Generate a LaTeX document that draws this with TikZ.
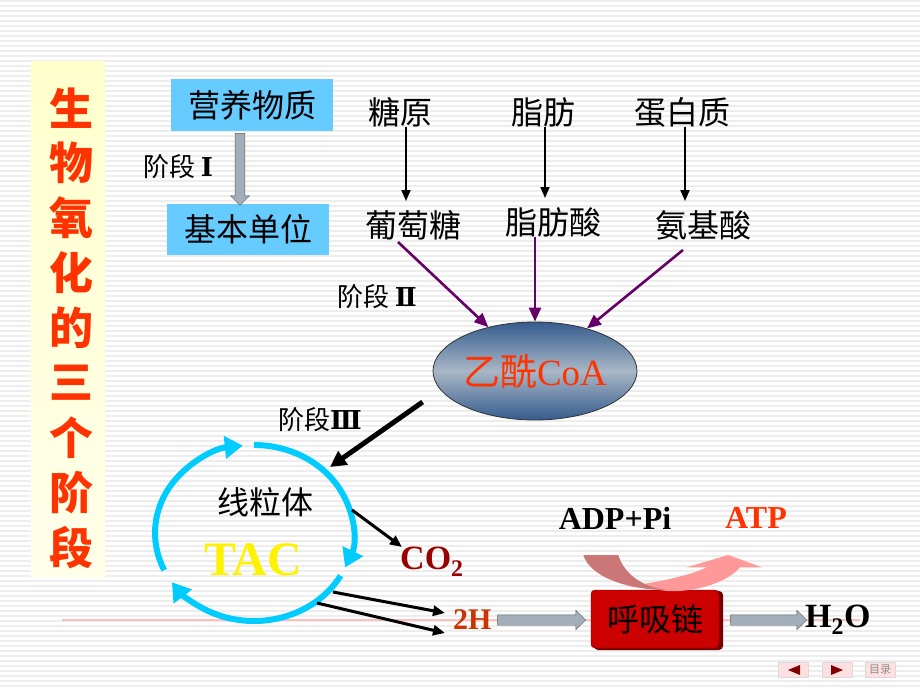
\documentclass[tikz,border=0pt]{standalone}
\usepackage{fontspec}
\setmainfont{Liberation Serif}
\newfontfamily\cjk{Noto Sans CJK SC}
\newfontfamily\numfont{DejaVu Serif}
\usetikzlibrary{arrows.meta,shapes.geometric,shapes.arrows}
\definecolor{boxblue}{HTML}{66CCFF}
\definecolor{titlered}{HTML}{FF3300}
\definecolor{titlebg}{HTML}{FFFFCC}
\definecolor{feedpurple}{HTML}{660066}
\definecolor{cyclecyan}{HTML}{00CCFF}
\definecolor{blockgray}{HTML}{A3AEBB}
\definecolor{coared}{HTML}{990000}
\definecolor{hred}{HTML}{CC3300}
\definecolor{chainred}{HTML}{CC0000}
\definecolor{bandlight}{HTML}{FF9999}
\definecolor{banddark}{HTML}{CC7777}
\definecolor{ellblue}{HTML}{355C8E}
\definecolor{ellmid}{HTML}{A9B7C6}
\newcommand{\stagenum}[1]{{\numfont\bfseries #1}}
\tikzset{
  stripe/.style={line width=2pt, draw=black!7},
  titlechar/.style={font=\cjk\bfseries\fontsize{44}{44}\selectfont, text=titlered, inner sep=0pt},
  cjklabel/.style={font=\cjk\fontsize{32}{32}\selectfont, inner sep=0pt},
  stagelabel/.style={font=\cjk\fontsize{26}{26}\selectfont, inner sep=0pt},
  bluebox/.style={cjklabel, fill=boxblue, minimum width=162pt, minimum height=51pt},
  grayarrow/.style={single arrow, draw=black!65, fill=blockgray, inner sep=5pt,
    minimum width=19pt, single arrow head extend=4.5pt},
  downarrow/.style={-{Triangle[length=11pt,width=9pt]}, line width=1.8pt},
  feedarrow/.style={-{Triangle[length=14pt,width=12pt]}, line width=2.6pt, draw=feedpurple},
  bigarrow/.style={-{Triangle[length=16pt,width=16pt]}, line width=5pt},
  outarrow/.style={-{Triangle[length=12pt,width=10pt]}, line width=3pt},
  cyclearc/.style={-{Triangle[length=18pt,width=22pt]}, line width=6pt, draw=cyclecyan},
  boldtext/.style={font=\bfseries\fontsize{34}{34}\selectfont, inner sep=0pt},
  navbtn/.style={draw=black!15, fill=red!12, minimum width=30pt, minimum height=15pt, inner sep=0pt}
}
\begin{document}
\begin{tikzpicture}[x=1pt,y=-1pt]
\useasboundingbox (0,0) rectangle (920,690);
\fill[white] (0,0) rectangle (920,690);
% striped background
\foreach \y in {1,6,...,690} {\draw[stripe] (0,\y) -- (920,\y);}
\draw[line width=2pt, draw=red!25] (62,620) -- (860,620);

% title column
\shade[top color=titlebg, bottom color=titlebg!40] (31,62) rectangle (105,577);
\foreach \c [count=\i from 0] in {生,物,氧,化,的,三,个,阶,段} {
  \node[titlechar] (t\i) at (71,{108+55*\i}) {\c};
}

% stage I
\node[bluebox] (nutri) at (252,105) {营养物质};
\node[bluebox] (units) at (248,229) {基本单位};
\node[grayarrow, inner sep=4.5pt, shape border rotate=270, minimum height=72pt] (s1arrow) at (240,167) {};
\node[stagelabel] (stage1) at (178,167) {阶段 \stagenum{Ⅰ}};

% stage II
\node[cjklabel] (glycogen) at (400,112) {糖原};
\node[cjklabel] (fat) at (543,112) {脂肪};
\node[cjklabel] (protein) at (682,112) {蛋白质};
\node[cjklabel] (glucose) at (413,225) {葡萄糖};
\node[cjklabel] (fattyacid) at (553,222) {脂肪酸};
\node[cjklabel] (aminoacid) at (703,225) {氨基酸};
\draw[downarrow] ([xshift=6pt]glycogen.south) -- ([xshift=6pt,yshift=9pt]glycogen.south |- glucose.north);
\draw[downarrow] ([xshift=2pt]fat.south) -- ([xshift=2pt,yshift=9pt]fat.south |- fattyacid.north);
\draw[downarrow] ([xshift=3pt]protein.south) -- ([xshift=3pt,yshift=9pt]protein.south |- aminoacid.north);
\node[stagelabel] (stage2) at (377,297) {阶段 \stagenum{Ⅱ}};

\node[ellipse, draw=black!80, line width=.8pt, top color=ellblue, bottom color=ellblue, middle color=ellmid,
  minimum width=204pt, minimum height=98pt, inner sep=0pt,
  font=\fontsize{37}{37}\selectfont, text=titlered] (acoa) at (535,371) {{\cjk 乙酰}CoA};
\draw[feedarrow] ([xshift=-15pt,yshift=-2pt]glucose.south) -- (acoa);
\draw[feedarrow] (acoa.north |- fattyacid.south) -- (acoa.north);
\draw[feedarrow] ([xshift=-20pt,yshift=-10pt]aminoacid.south) -- (acoa);

% stage III
\node[stagelabel] (stage3) at (320,420) {阶段\stagenum{Ⅲ}};
\coordinate (cyc) at (254,533);
\coordinate (cycin) at (330,467);
\draw[bigarrow] ([xshift=-10pt,yshift=-31pt]acoa.west) -- (cycin);
\draw[cyclearc] ([shift={(155:99 and 88)}]cyc) arc[start angle=155, end angle=263.5, x radius=99, y radius=88];
\draw[cyclearc] ([shift={(270:99 and 88)}]cyc) arc[start angle=270, end angle=383, x radius=99, y radius=88];
\draw[cyclearc] ([shift={(29:99 and 88)}]cyc) arc[start angle=29, end angle=146, x radius=99, y radius=88];
\node[cjklabel] (mito) at (265,502) {线粒体};
\node[font=\bfseries\fontsize{48}{48}\selectfont, text=yellow, inner sep=0pt] (tac) at (253,560) {TAC};

\node[boldtext, text=coared, anchor=west] (co2) at (400,562) {CO\textsubscript{2}};
\draw[outarrow] (352,510) -- ([xshift=2pt,yshift=15pt]co2.west);
\node[font=\bfseries\fontsize{30}{30}\selectfont, text=hred, inner sep=0pt, anchor=west] (twoh) at (453,620) {2H};
\draw[outarrow] (333,592) -- ([xshift=-8pt,yshift=7pt]twoh.west);
\draw[outarrow] (317,603) -- ([xshift=-8pt,yshift=-13pt]twoh.west);

% respiratory chain
\fill[coared!80!black, rounded corners=4pt] (594,591) rectangle (723,650);
\node[cjklabel, fill=chainred, draw=coared!70!black, rounded corners=4pt,
  minimum width=128pt, minimum height=58pt] (chain) at (655,619) {呼吸链};
\node[grayarrow, minimum height=88pt] (arrin) at (539,620) {};
\node[grayarrow, minimum height=76pt] (arrout) at (766,620) {};
\node[boldtext, anchor=west] (water) at (805,620) {H\textsubscript{2}O};
\node[font=\bfseries\fontsize{32}{32}\selectfont, inner sep=0pt] (adp) at (615,518) {ADP+Pi};
\node[font=\bfseries\fontsize{32}{32}\selectfont, text=titlered, inner sep=0pt] (atp) at (756,518) {ATP};
\fill[bandlight] (628,586) .. controls (662,582) and (694,574) .. (706.7,567.3)
  -- (686.7,567.3) -- (728.3,555) -- (761.7,567.3) -- (740,567.3)
  .. controls (726.7,583.3) and (693.3,592.5) .. (666.7,591) -- cycle;
\fill[banddark] (583.3,555) -- (618.3,555) .. controls (625,576.7) and (646.7,588.3) .. (668.3,590)
  .. controls (626.7,590) and (590,576.7) .. (583.3,555) -- cycle;

% navigation
\node[navbtn] (prev) at (793,670) {};
\node[navbtn] (next) at (837,670) {};
\node[navbtn, font=\cjk\fontsize{11}{11}\selectfont, text=black!45] (toc) at (880,670) {目录};
\fill[red!50!black] (800,665) -- (800,675) -- (788,670) -- cycle;
\fill[red!50!black] (831,665) -- (831,675) -- (843,670) -- cycle;
\end{tikzpicture}
\end{document}
